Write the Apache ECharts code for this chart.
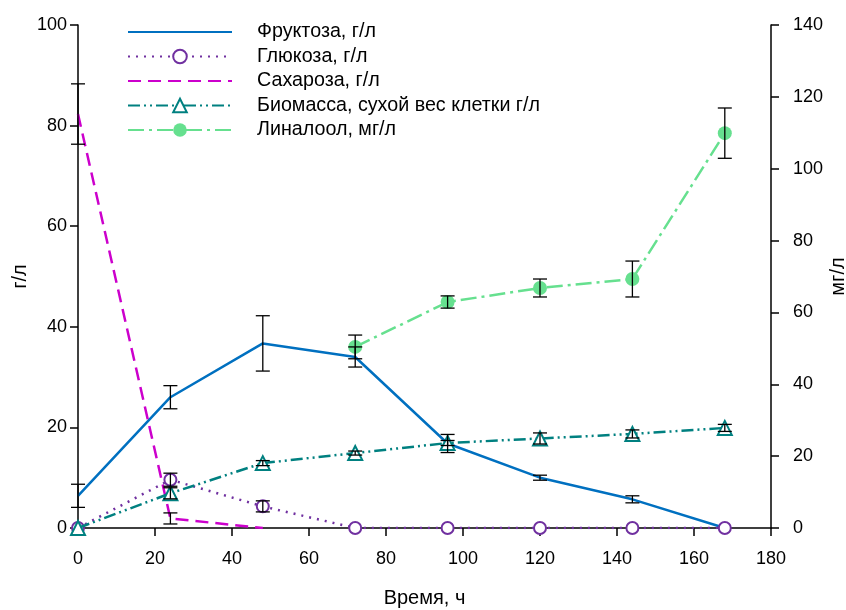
<!DOCTYPE html>
<html>
<head>
<meta charset="utf-8">
<script src="https://cdn.jsdelivr.net/npm/echarts@6/dist/echarts.min.js"></script>
<style>
  html, body { margin: 0; padding: 0; background: #fff; overflow: hidden; }
  #chart { width: 846px; height: 610px; }
</style>
</head>
<body>
<div id="chart"></div>
<script>
// Sampling times, hours
const hours = [0, 24, 48, 72, 96, 120, 144, 168];
const sucroseHours = [0, 24, 48];
const linaloolHours = [72, 96, 120, 144, 168];

// Concentrations (g/L) with standard deviations
const fructose    = [6.4, 26.0, 36.7, 34.0, 16.8, 10.0, 5.7, 0];
const fructoseErr = [2.3, 2.3, 5.5, 2.0, 1.8, 0.5, 0.7, 0];
const glucose     = [0, 9.6, 4.3, 0, 0, 0, 0, 0];
const glucoseErr  = [0, 1.3, 1.1, 0, 0, 0, 0, 0];
const sucrose     = [82.3, 1.9, 0];
const sucroseErr  = [6.0, 1.1, 0];
const biomass     = [0, 6.9, 12.9, 14.9, 16.9, 17.8, 18.7, 19.9];
const biomassErr  = [0, 1.1, 0.5, 0.4, 0.5, 1.1, 0.8, 0.7];

// Linalool (mg/L)
const linalool    = [50.4, 62.9, 66.8, 69.3, 109.9];
const linaloolErr = [3.3, 1.7, 2.5, 5.0, 7.0];

// Axis ticks
const xTicks = { min: 0, max: 180, step: 20 };
const leftTicks = { min: 0, max: 100, step: 20 };
const rightTicks = { min: 0, max: 140, step: 20 };

const FONT = 'Liberation Sans, Arial, sans-serif';

function pairs(xs, ys) { return xs.map((x, i) => [x, ys[i]]); }
function errData(xs, ys, es) {
  const out = [];
  xs.forEach((x, i) => { if (es[i] > 0) out.push([x, ys[i] - es[i], ys[i] + es[i]]); });
  return out;
}

function errorBarSeries(xs, ys, es, yAxisIndex) {
  return {
    type: 'custom',
    yAxisIndex: yAxisIndex,
    z: 10,
    silent: true,
    renderItem: function (params, api) {
      const lo = api.coord([api.value(0), api.value(1)]);
      const hi = api.coord([api.value(0), api.value(2)]);
      const half = 7;
      const style = { stroke: '#000', lineWidth: 1.3, fill: null };
      return {
        type: 'group',
        children: [
          { type: 'line', shape: { x1: lo[0], y1: lo[1], x2: hi[0], y2: hi[1] }, style: style },
          { type: 'line', shape: { x1: lo[0] - half, y1: lo[1], x2: lo[0] + half, y2: lo[1] }, style: style },
          { type: 'line', shape: { x1: hi[0] - half, y1: hi[1], x2: hi[0] + half, y2: hi[1] }, style: style }
        ]
      };
    },
    data: errData(xs, ys, es)
  };
}

const axisLine = { show: true, lineStyle: { color: '#000', width: 1.5 } };
const axisTick = { show: true, inside: false, length: 8, lineStyle: { color: '#000', width: 1.5 } };
const labelStyle = { color: '#000', fontSize: 18, fontFamily: FONT };
const nameStyle = { color: '#000', fontSize: 20, fontFamily: FONT };

const chart = echarts.init(document.getElementById('chart'), null, { renderer: 'canvas', width: 846, height: 610 });

chart.setOption({
  animation: false,
  backgroundColor: '#fff',
  grid: { left: 78, right: 75, top: 25, bottom: 82, containLabel: false, outerBoundsMode: 'none' },
  legend: {
    orient: 'vertical',
    left: 127,
    top: 22,
    padding: 0,
    itemWidth: 104,
    itemHeight: 17,
    itemGap: 4.5,
    textStyle: { fontSize: 19.7, fontFamily: FONT, color: '#000', padding: [0, 0, 0, 20] },
    data: [
      { name: 'Фруктоза, г/л', itemStyle: { opacity: 0 } },
      'Глюкоза, г/л',
      { name: 'Сахароза, г/л', itemStyle: { opacity: 0 } },
      'Биомасса, сухой вес клетки г/л',
      'Линалоол, мг/л'
    ]
  },
  xAxis: {
    type: 'value',
    min: xTicks.min, max: xTicks.max, interval: xTicks.step,
    name: 'Время, ч',
    nameLocation: 'middle',
    nameGap: 60,
    nameMoveOverlap: false,
    nameTextStyle: nameStyle,
    axisLine: axisLine,
    axisTick: axisTick,
    axisLabel: Object.assign({ margin: 22 }, labelStyle),
    splitLine: { show: false }
  },
  yAxis: [
    {
      type: 'value',
      position: 'left',
      min: leftTicks.min, max: leftTicks.max, interval: leftTicks.step,
      name: 'г/л',
      nameLocation: 'middle',
      nameGap: 48,
      nameMoveOverlap: false,
      nameTextStyle: nameStyle,
      axisLine: axisLine,
      axisTick: axisTick,
      axisLabel: Object.assign({ margin: 11 }, labelStyle),
      splitLine: { show: false }
    },
    {
      type: 'value',
      position: 'right',
      min: rightTicks.min, max: rightTicks.max, interval: rightTicks.step,
      name: 'мг/л',
      nameLocation: 'middle',
      nameGap: 57,
      nameMoveOverlap: false,
      nameTextStyle: nameStyle,
      axisLine: axisLine,
      axisTick: axisTick,
      axisLabel: Object.assign({ margin: 22 }, labelStyle),
      splitLine: { show: false }
    }
  ],
  series: [
    {
      name: 'Фруктоза, г/л',
      type: 'line',
      data: pairs(hours, fructose),
      symbol: 'none',
      lineStyle: { color: '#0070C0', width: 2.5, type: 'solid' },
      itemStyle: { color: '#0070C0' },
      z: 3
    },
    {
      name: 'Глюкоза, г/л',
      type: 'line',
      data: pairs(hours, glucose),
      symbol: 'emptyCircle',
      symbolSize: 12,
      lineStyle: { color: '#7030A0', width: 2.5, type: [2, 6] },
      itemStyle: { color: '#7030A0', borderWidth: 1.6 },
      z: 4
    },
    {
      name: 'Сахароза, г/л',
      type: 'line',
      data: pairs(sucroseHours, sucrose),
      symbol: 'none',
      lineStyle: { color: '#CC00CC', width: 2.5, type: [13, 7] },
      itemStyle: { color: '#CC00CC' },
      z: 3
    },
    {
      name: 'Биомасса, сухой вес клетки г/л',
      type: 'line',
      data: pairs(hours, biomass),
      symbol: 'emptyTriangle',
      symbolSize: 14,
      lineStyle: { color: '#008080', width: 2.5, type: [12, 4, 2, 4, 2, 4] },
      itemStyle: { color: '#008080', borderWidth: 1.8 },
      z: 5
    },
    {
      name: 'Линалоол, мг/л',
      type: 'line',
      yAxisIndex: 1,
      data: pairs(linaloolHours, linalool),
      symbol: 'circle',
      symbolSize: 14,
      lineStyle: { color: '#66E08F', width: 2.5, type: [16, 5, 3, 5] },
      itemStyle: { color: '#66E08F' },
      z: 5
    },
    errorBarSeries(hours, fructose, fructoseErr, 0),
    errorBarSeries(hours, glucose, glucoseErr, 0),
    errorBarSeries(sucroseHours, sucrose, sucroseErr, 0),
    errorBarSeries(hours, biomass, biomassErr, 0),
    errorBarSeries(linaloolHours, linalool, linaloolErr, 1)
  ]
});
</script>
</body>
</html>
